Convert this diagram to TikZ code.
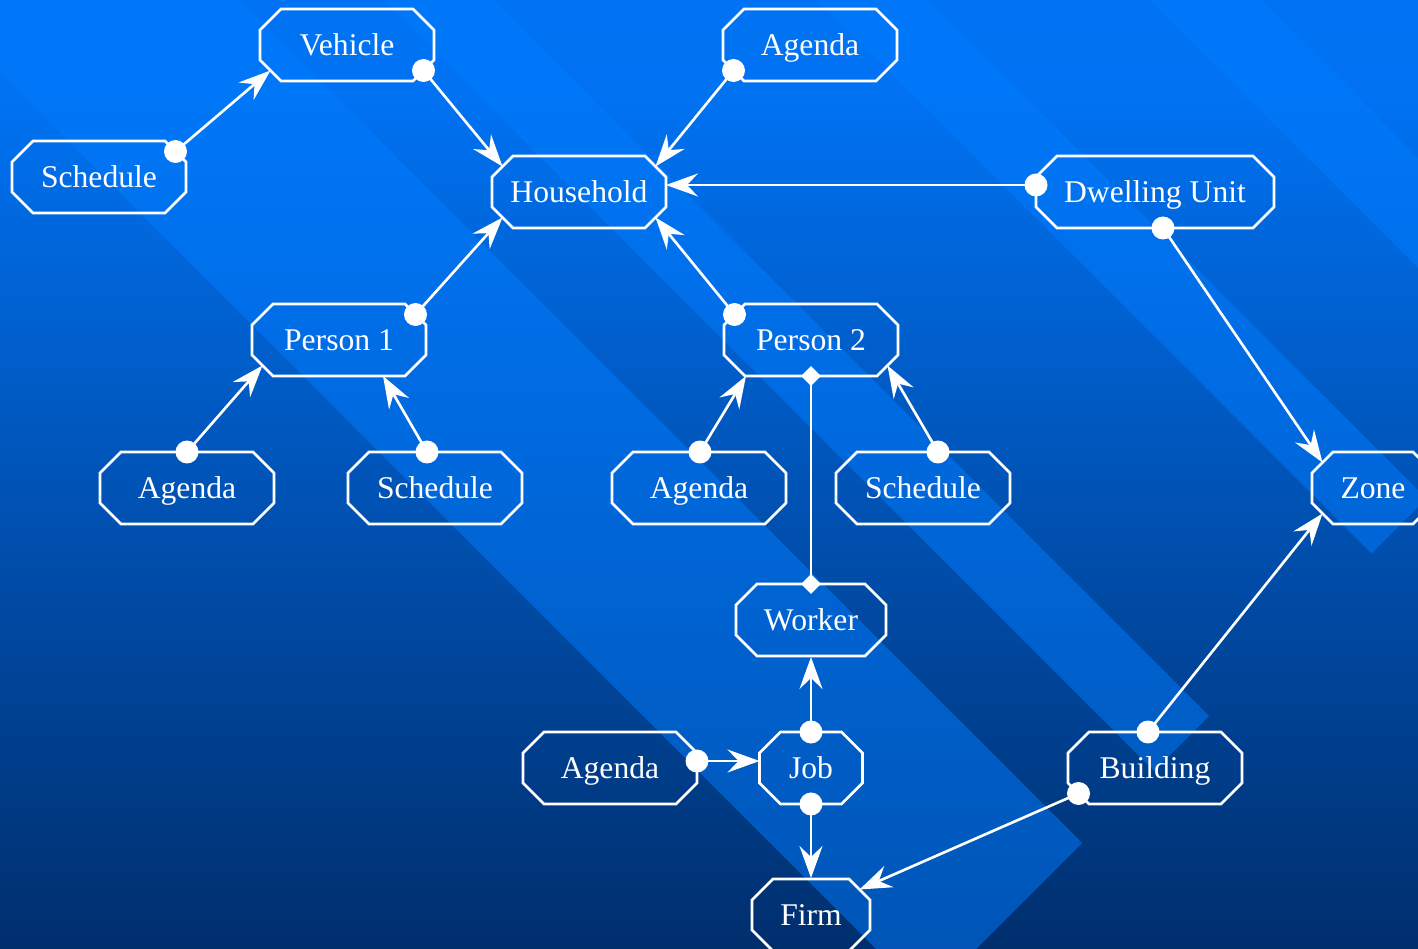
\documentclass[tikz,border=0pt]{standalone}
\usepackage{fontspec}
\setmainfont{Liberation Serif}
\usepackage{tikz}
\usetikzlibrary{arrows.meta, shapes.geometric}
\definecolor{slidetop}{HTML}{007AFF}
\definecolor{slidehigh}{HTML}{0072F2}
\definecolor{slidemid}{HTML}{0054B8}
\definecolor{slidelow}{HTML}{003070}
\definecolor{slidebot}{HTML}{001640}
\definecolor{stripeblue}{HTML}{007CFF}
\pgfdeclareverticalshading{slidebg}{100bp}{color(0bp)=(slidebot); color(26bp)=(slidelow); color(50bp)=(slidemid); color(70bp)=(slidehigh); color(100bp)=(slidetop)}

\begin{document}
\begin{tikzpicture}[
  x=0.02cm, y=-0.02cm,
  box/.style={rectangle, outer sep=0pt, inner sep=0pt, text=white, minimum width=3.48cm, minimum height=1.44cm, font=\fontsize{18}{22}\selectfont, text height=12pt, text depth=0pt},
  rim/.style={draw=white, line width=1.5pt},
  dot/.style={circle, fill=white, inner sep=0pt, minimum size=0.46cm},
  gem/.style={diamond, fill=white, inner sep=0pt, minimum width=0.42cm, minimum height=0.42cm},
  link/.style={-{Stealth[length=0.64cm, width=0.46cm, inset=0.22cm]}, line width=1.5pt, color=white},
  tie/.style={line width=1.5pt, color=white},
  stripe/.style={fill=stripeblue, fill opacity=0.5}
]
\useasboundingbox (0,0) rectangle (1418,949);

% slide background
\begin{scope}
  \clip (0,0) rectangle (1418,949);
  \fill[shading=slidebg] (0,0) rectangle (1418,949);
  \foreach \a/\b in {73/-239, -383/-493, -818/-928, -1150/-1260}
    \fill[stripe] ({(1925-\a)/2},{(1925+\a)/2}) -- ({(1925-\b)/2},{(1925+\b)/2})
      -- ({(-300-\b)/2},{(-300+\b)/2}) -- ({(-300-\a)/2},{(-300+\a)/2}) -- cycle;
\end{scope}

\node[box] (veh) at (347,45) {Vehicle};
\node[box] (sch0) at (99,177) {Schedule};
\node[box] (agd0) at (810,45) {Agenda};
\node[box] (hh) at (579,192) {Household};
\node[box, minimum width=4.76cm] (du) at (1155,192) {Dwelling Unit};

\node[box] (p1) at (339,340) {Person 1};
\node[box] (p2) at (811,340) {Person 2};
\node[box] (agd1) at (187,488) {Agenda};
\node[box] (sch1) at (435,488) {Schedule};
\node[box] (agd2) at (699,488) {Agenda};
\node[box] (sch2) at (923,488) {Schedule};
\node[box, minimum width=2.44cm] (zone) at (1373,488) {Zone};

\node[box, minimum width=3cm] (wkr) at (811,620) {Worker};
\node[box] (agd3) at (610,768) {Agenda};
\node[box, minimum width=2.06cm] (job) at (811,768) {Job};
\node[box] (bld) at (1155,768) {Building};
\node[box, minimum width=2.36cm] (firm) at (811,915) {Firm};

% octagon outlines
\foreach \n in {veh, sch0, agd0, hh, du, p1, p2, agd1, sch1, agd2, sch2, zone, wkr, agd3, job, bld, firm}
  \draw[rim] ([xshift=0.42cm]\n.north west) -- ([xshift=-0.42cm]\n.north east)
    -- ([yshift=-0.42cm]\n.north east) -- ([yshift=0.42cm]\n.south east)
    -- ([xshift=-0.42cm]\n.south east) -- ([xshift=0.42cm]\n.south west)
    -- ([yshift=0.42cm]\n.south west) -- ([yshift=-0.42cm]\n.north west) -- cycle;

\draw[link] ([shift={(76.5,-25.5)}]sch0.center) node[dot] {} -- ([shift={(-76.5,25.5)}]veh.center);
\draw[link] ([shift={(76.5,25.5)}]veh.center) node[dot] {} -- ([shift={(-76.5,-25.5)}]hh.center);
\draw[link] ([shift={(-76.5,25.5)}]agd0.center) node[dot] {} -- ([shift={(76.5,-25.5)}]hh.center);
\draw[link] ([shift={(-119,-7)}]du.center) node[dot] {} -- ([shift={(87,-7)}]hh.center);
\draw[link] ([shift={(8,36)}]du.center) node[dot] {} -- ([shift={(-50.5,-25.5)}]zone.center);
\draw[link] ([shift={(76.5,-25.5)}]p1.center) node[dot] {} -- ([shift={(-76.5,25.5)}]hh.center);
\draw[link] ([shift={(-76.5,-25.5)}]p2.center) node[dot] {} -- ([shift={(76.5,25.5)}]hh.center);

\draw[link] ([shift={(0,-36)}]agd1.center) node[dot] {} -- ([shift={(-76.5,25.5)}]p1.center);
\draw[link] ([shift={(-8,-36)}]sch1.center) node[dot] {} -- ([shift={(44,36)}]p1.center);
\draw[link] ([shift={(1,-36)}]agd2.center) node[dot] {} -- ([shift={(-65,36)}]p2.center);
\draw[link] ([shift={(15,-36)}]sch2.center) node[dot] {} -- ([shift={(76.5,25.5)}]p2.center);
\draw[tie] (p2.south) node[gem] {} -- (wkr.north) node[gem] {};

\draw[link] (job.north) node[dot] {} -- ([shift={(0,1)}]wkr.south);
\draw[link] ([shift={(87,-7)}]agd3.center) node[dot] {} -- ([shift={(-51.5,-7)}]job.center);
\draw[link] (job.south) node[dot] {} -- ([shift={(0,-1)}]firm.north);
\draw[link] ([shift={(-76.5,25.5)}]bld.center) node[dot] {} -- ([shift={(48.5,-25.5)}]firm.center);
\draw[link] ([shift={(-7,-36)}]bld.center) node[dot] {} -- ([shift={(-50.5,25.5)}]zone.center);

\end{tikzpicture}
\end{document}
